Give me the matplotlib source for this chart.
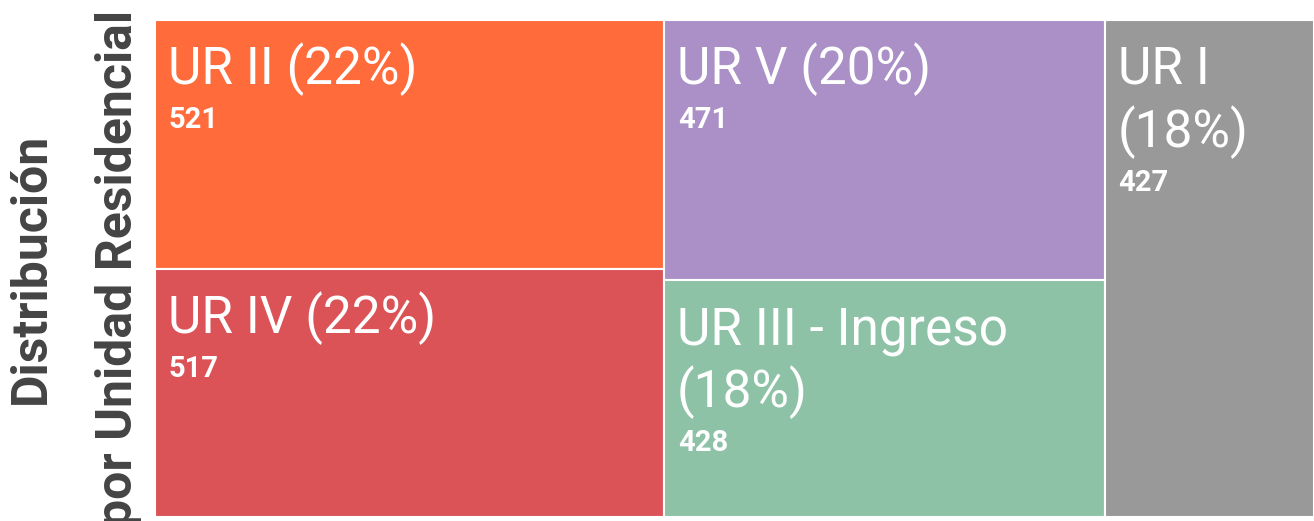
import matplotlib.pyplot as plt
from matplotlib.patches import Rectangle

# Datos del treemap
etiquetas = ["UR II", "UR IV", "UR V", "UR III - Ingreso", "UR I"]
valores = [521, 517, 471, 428, 427]
colores = ["#FF6B3B", "#DB5356", "#AA90C6", "#8EC2A7", "#999999"]
columnas = [[0, 1], [2, 3], [4]]

plt.rcParams['font.family'] = ['Roboto', 'DejaVu Sans']

fig = plt.figure(figsize=(13.14, 5.21), dpi=100)
ax = fig.add_axes([155 / 1314, 4 / 521, 1159 / 1314, 497 / 521])
ax.set_xlim(0, 1)
ax.set_ylim(0, 1)
for s in ax.spines.values():
    s.set_visible(False)
ax.set_xticks([])
ax.set_yticks([])

fig.canvas.draw()
renderer = fig.canvas.get_renderer()
ancho_px = ax.get_window_extent().width

total = sum(valores)
titulo_size = 37
num_size = 21
paso = 63


def partir(texto, ancho_max):
    # corta el texto en lineas que quepan en el ancho del recuadro
    palabras = texto.split(" ")
    lineas = []
    actual = ""
    for p in palabras:
        prueba = p if actual == "" else actual + " " + p
        t = fig.text(0, 0, prueba, fontsize=titulo_size)
        w = t.get_window_extent(renderer).width
        t.remove()
        if w > ancho_max and actual != "":
            lineas.append(actual)
            actual = p
        else:
            actual = prueba
    lineas.append(actual)
    return lineas


x = 0
for col in columnas:
    col_total = sum(valores[i] for i in col)
    w = col_total / total
    y = 1
    for i in col:
        h = valores[i] / col_total
        ax.add_patch(Rectangle((x, y - h), w, h, facecolor=colores[i],
                               edgecolor="white", linewidth=1.5))
        titulo = f"{etiquetas[i]} ({valores[i] / total:.0%})"
        lineas = partir(titulo, w * ancho_px - 30)
        for k, linea in enumerate(lineas):
            ax.annotate(linea, xy=(x, y), xytext=(13, -64 - k * paso),
                        textcoords="offset pixels", va="baseline", ha="left",
                        fontsize=titulo_size, color="white")
        ax.annotate(str(valores[i]), xy=(x, y),
                    xytext=(14, -64 - (len(lineas) - 1) * paso - 44),
                    textcoords="offset pixels", va="baseline", ha="left",
                    fontsize=num_size, fontweight="bold", color="white")
        y -= h
    x += w

ax.set_ylabel("Distribución\npor Unidad Residencial", fontsize=36,
              fontweight="bold", color="#444444", labelpad=9, linespacing=2.1)

fig.savefig("out.png", dpi=100)
